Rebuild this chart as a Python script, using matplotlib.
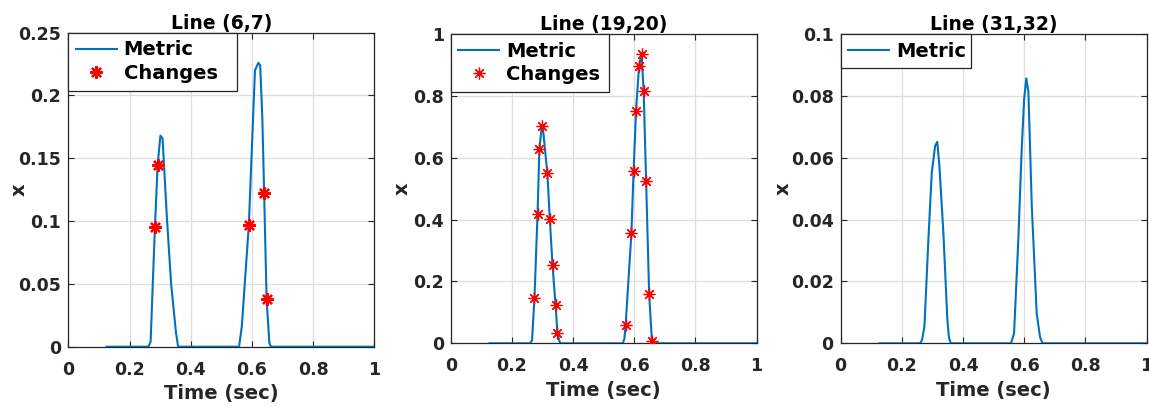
""" Metric curves per line with detected changes """

from matplotlib import pyplot as plt

# ---- data ----
t1 = [0.125, 0.262, 0.269, 0.283, 0.292, 0.301, 0.308, 0.322, 0.336, 0.352, 0.359,
      0.558, 0.567, 0.590, 0.610, 0.621, 0.627, 0.634, 0.640, 0.648, 0.657, 0.662, 1.0]
m1 = [0, 0, 0.004, 0.095, 0.145, 0.168, 0.166, 0.1035, 0.050, 0.011, 0,
      0, 0.016, 0.097, 0.220, 0.226, 0.224, 0.183, 0.1226, 0.038, 0.003, 0, 0]
c1_t = [0.283, 0.292, 0.590, 0.640, 0.648]
c1_v = [0.095, 0.145, 0.097, 0.1226, 0.038]

t2 = [0.127, 0.260, 0.266, 0.274, 0.284, 0.290, 0.298, 0.302, 0.316, 0.324, 0.333,
      0.343, 0.349, 0.356, 0.360, 0.563, 0.568, 0.572, 0.591, 0.598, 0.606, 0.616,
      0.624, 0.631, 0.639, 0.649, 0.658, 0.662, 1.0]
m2 = [0, 0, 0.01, 0.148, 0.419, 0.627, 0.702, 0.69, 0.551, 0.403, 0.252,
      0.123, 0.034, 0.005, 0, 0, 0.015, 0.059, 0.357, 0.556, 0.750, 0.897,
      0.935, 0.816, 0.524, 0.159, 0.008, 0, 0]
c2_t = [0.274, 0.284, 0.290, 0.298, 0.316, 0.324, 0.333, 0.343, 0.349,
        0.572, 0.591, 0.598, 0.606, 0.616, 0.624, 0.631, 0.639, 0.649, 0.658]
c2_v = [0.148, 0.419, 0.627, 0.702, 0.551, 0.403, 0.252, 0.123, 0.034,
        0.059, 0.357, 0.556, 0.750, 0.897, 0.935, 0.816, 0.524, 0.159, 0.008]

t3 = [0.127, 0.260, 0.266, 0.274, 0.287, 0.298, 0.309, 0.316, 0.323, 0.336, 0.349,
      0.354, 0.360, 0.557, 0.567, 0.581, 0.592, 0.600, 0.607, 0.614, 0.625, 0.641,
      0.652, 0.660, 1.0]
m3 = [0, 0, 0.001, 0.0054, 0.0335, 0.0551, 0.0638, 0.0651, 0.0573, 0.0357, 0.0076,
      0.002, 0, 0, 0.0032, 0.0335, 0.0627, 0.0789, 0.0856, 0.0811, 0.0443, 0.0097,
      0.002, 0, 0]

titles = ["Line (6,7)", "Line (19,20)", "Line (31,32)"]
y_limits = [0.25, 1.0, 0.1]
y_ticks = [[0, 0.05, 0.1, 0.15, 0.2, 0.25],
           [0, 0.2, 0.4, 0.6, 0.8, 1],
           [0, 0.02, 0.04, 0.06, 0.08, 0.1]]
y_ticklabels = [["0", "0.05", "0.1", "0.15", "0.2", "0.25"],
                ["0", "0.2", "0.4", "0.6", "0.8", "1"],
                ["0", "0.02", "0.04", "0.06", "0.08", "0.1"]]
x_ticks = [0, 0.2, 0.4, 0.6, 0.8, 1]
x_ticklabels = ["0", "0.2", "0.4", "0.6", "0.8", "1"]

BLUE = "#0072BD"
W, H = 1149, 407
# axes boxes in pixels: left, top, right, bottom
boxes = [(68.3, 32.7, 374.3, 346.7),
         (450.7, 33.9, 756.5, 343.3),
         (840.6, 33.9, 1146.5, 343.3)]
legend_w = [237 - 68.3, 609 - 450.7, 970.5 - 840.6]
ylabel_x = [-0.13, -0.127, -0.155]
# marker look for the "Changes" points (size, edge width) per panel
star_style = [(9, 1.6), (8.5, 0.9), None]

plt.rcParams['font.family'] = ['DejaVu Sans']
plt.rcParams['font.weight'] = 'bold'

fig = plt.figure(figsize=(W / 100, H / 100), dpi=100)

series = [(t1, m1, c1_t, c1_v), (t2, m2, c2_t, c2_v), (t3, m3, None, None)]

for i, (t, m, ct, cv) in enumerate(series):
    l, tp, r, b = boxes[i]
    ax = fig.add_axes([l / W, 1 - b / H, (r - l) / W, (b - tp) / H])

    ax.plot(t, m, color=BLUE, lw=1.5, label="Metric", zorder=3)
    if ct is not None:
        ms, mew = star_style[i]
        ax.plot(ct, cv, ls="none", marker=(8, 2, 0), ms=ms, mew=mew,
                color="red", label="Changes", zorder=4)

    ax.set_xlim(0, 1)
    ax.set_ylim(0, y_limits[i])
    ax.set_xticks(x_ticks)
    ax.set_xticklabels(x_ticklabels)
    ax.set_yticks(y_ticks[i])
    ax.set_yticklabels(y_ticklabels[i])
    ax.tick_params(direction="in", length=4, width=0.8, colors="#262626",
                   labelsize=12.5, top=True, right=True)
    ax.tick_params(axis="x", pad=10)
    ax.tick_params(axis="y", pad=5)
    for lab in ax.get_xticklabels() + ax.get_yticklabels():
        lab.set_fontweight("bold")
    for s in ax.spines.values():
        s.set_color("#262626")
        s.set_linewidth(0.9)
    ax.grid(True, color="#dedede", lw=0.9)
    ax.set_axisbelow(True)

    ax.set_title(titles[i], fontsize=13.5, fontweight="bold", pad=3)
    ax.set_xlabel("Time (sec)", fontsize=14, fontweight="bold", labelpad=4,
                  color="#262626")
    ax.set_ylabel("x", fontsize=14, fontweight="bold", color="#262626")
    ax.yaxis.set_label_coords(ylabel_x[i], 0.5)

    lw_frac = legend_w[i] / (r - l)
    leg = ax.legend(loc="upper left", bbox_to_anchor=(0, 0, lw_frac, 1),
                    mode="expand", borderaxespad=0, fancybox=False,
                    edgecolor="#262626", framealpha=1,
                    handlelength=2.1, handletextpad=0.35, borderpad=0.4,
                    labelspacing=0.22, prop={"weight": "bold", "size": 14})
    leg.get_frame().set_linewidth(0.9)

fig.savefig("out.png", dpi=100)
